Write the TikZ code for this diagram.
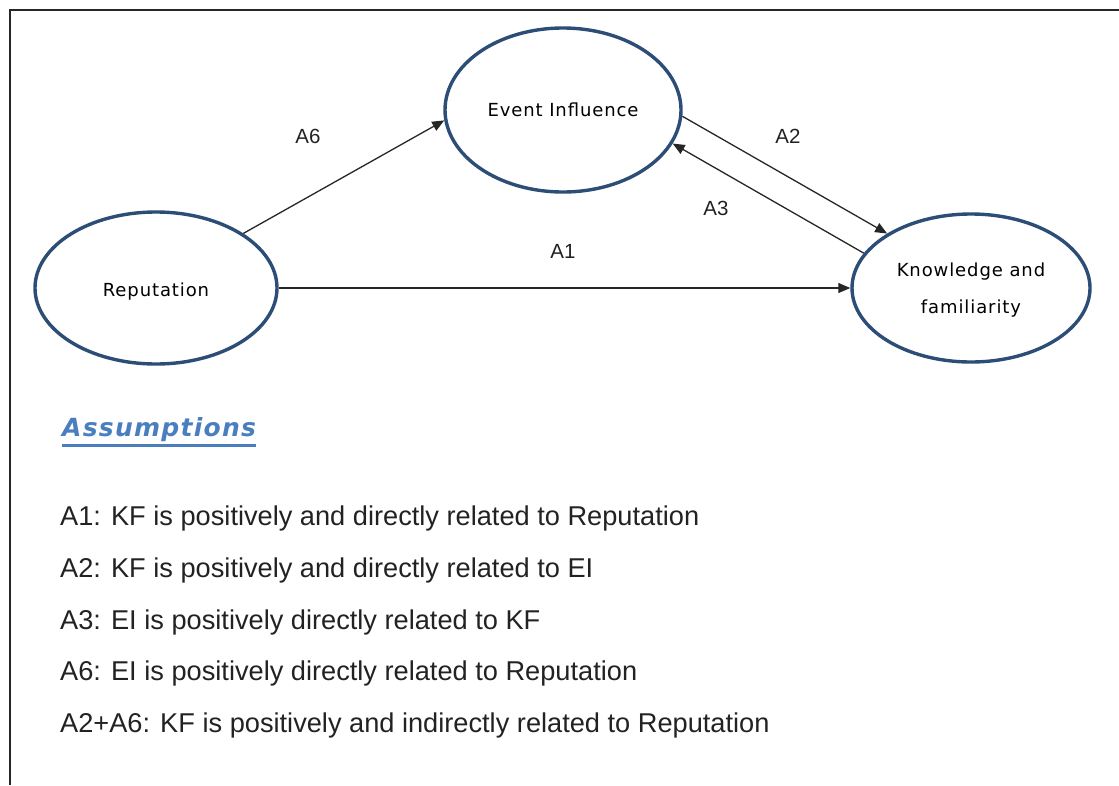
\documentclass[tikz,border=0pt]{standalone}
\usepackage{fontspec}
\setmainfont{Liberation Sans}
\newfontfamily\labelfont[LetterSpace=5]{DejaVu Sans}
\newfontfamily\headfont[LetterSpace=5]{DejaVu Sans}
\usetikzlibrary{shapes.geometric,arrows.meta}
\definecolor{ringblue}{HTML}{2C4D75}
\definecolor{headblue}{HTML}{4A7EBF}
\definecolor{txtgray}{HTML}{222222}
\tikzset{
  frame/.style={line width=2pt, draw=black!85},
  bubble/.style={ellipse, draw=ringblue, line width=3.4pt, fill=white, inner sep=0pt,
    font=\labelfont\fontsize{18}{37}\selectfont, text=black, align=center},
  arr/.style={line width=1.3pt, draw=black!85, -{Triangle[length=12pt,width=10pt]}},
  elabel/.style={font=\fontsize{20.5}{24}\selectfont, text=txtgray, inner sep=0pt},
  item/.style={font=\fontsize{27.2}{32}\selectfont, text=txtgray, anchor=west, inner sep=0pt},
  heading/.style={font=\headfont\bfseries\itshape\fontsize{25}{28}\selectfont, text=headblue, anchor=west, inner sep=0pt}
}
\begin{document}
\begin{tikzpicture}[x=1pt,y=-1pt]
\useasboundingbox (0,0) rectangle (1119,785);
% page frame: top and left rules
\draw[frame] (10,785) -- (10,10) -- (1119,10);

% the three constructs
\node[bubble, minimum width=236pt, minimum height=164pt] (ei) at (563,110) {Event Influence};
\node[bubble, minimum width=242pt, minimum height=152pt, text height=17pt, text depth=0pt] (rep) at (156,288) {Reputation};
\node[bubble, minimum width=238pt, minimum height=148pt, text depth=0pt] (kf) at (971,288) {\shortstack{Knowledge and\\[17pt]familiarity}};

% hypothesised relations
\draw[arr] (rep.32) -- (ei.-175);
\draw[arr] (rep.east) -- (kf.west);
\draw[arr] (ei.-3.5) -- (kf.147);
\draw[arr] (kf.162) -- (ei.-17);

\node[elabel] (la6) at (308,136) {A6};
\node[elabel] (la2) at (788,136) {A2};
\node[elabel] (la3) at (716,208) {A3};
\node[elabel] (la1) at (563,251) {A1};

% list of assumptions
\node[heading] (head) at (62,430) {Assumptions};
\draw[headblue, line width=3pt] (head.south west) ++(0,3) coordinate (ul0) -- (ul0 -| head.south east);

\node[item] (a1) at (60,518) {A1: KF is positively and directly related to Reputation};
\node[item] (a2) at (60,570) {A2: KF is positively and directly related to EI};
\node[item] (a3) at (60,622) {A3: EI is positively directly related to KF};
\node[item] (a6) at (60,673) {A6: EI is positively directly related to Reputation};
\node[item] (a26) at (60,725) {A2+A6: KF is positively and indirectly related to Reputation};
\end{tikzpicture}
\end{document}
